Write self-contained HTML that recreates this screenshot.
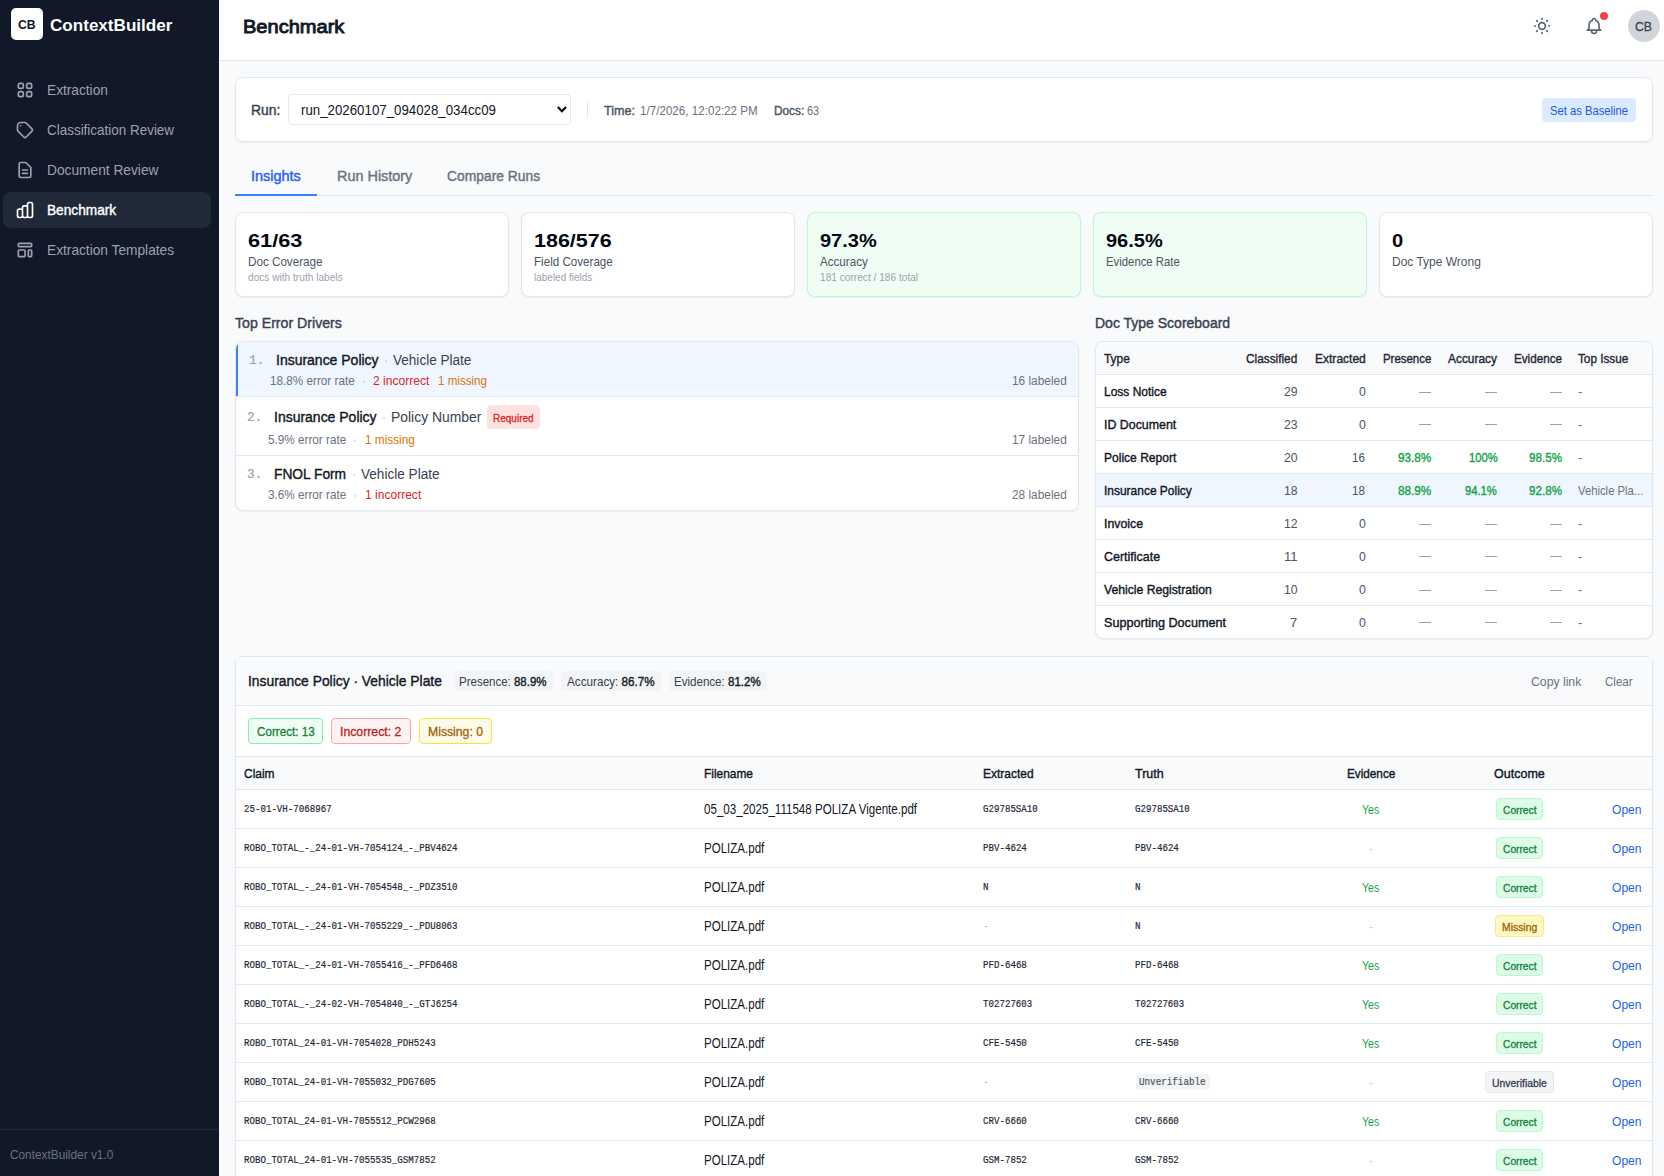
<!DOCTYPE html>
<html lang="en">
<head>
<meta charset="utf-8">
<title>ContextBuilder - Benchmark</title>
<style>
*{box-sizing:border-box;margin:0;padding:0}
html,body{width:1664px;height:1176px;overflow:hidden;background:#f9fafb;font-family:"Liberation Sans",sans-serif;color:#111827}
body{position:relative}
.b{position:absolute}
.t{position:absolute;white-space:nowrap;transform-origin:0 50%}
.m{font-family:"Liberation Mono",monospace;-webkit-text-stroke:.2px currentColor}
.s{-webkit-text-stroke:.4px currentColor}
.s2{-webkit-text-stroke:.9px currentColor}
.s1{-webkit-text-stroke:.3px currentColor}
.bd{font-weight:bold}
.card{position:absolute;background:#fff;border:1px solid #e2e8f0;border-radius:8px;box-shadow:0 1px 2px rgba(0,0,0,.06)}
.ln{position:absolute;height:1px;background:#e2e8f0}
svg.i{position:absolute;fill:none;stroke-width:2;stroke-linecap:round;stroke-linejoin:round}
</style>
</head>
<body>
<div class="b" style="left:0px;top:0px;width:219px;height:1176px;background:#111827"></div>
<div class="b" style="left:11px;top:8px;width:32px;height:32px;background:#fff;border-radius:5px"></div>
<div class="b" style="left:3px;top:192px;width:208px;height:36px;background:#1f2937;border-radius:8px"></div>
<svg class="i" style="left:15px;top:80px;stroke:#9ca3af" width="20" height="20" viewBox="0 0 24 24"><path d="M4 6a2 2 0 012-2h2a2 2 0 012 2v2a2 2 0 01-2 2H6a2 2 0 01-2-2V6zM14 6a2 2 0 012-2h2a2 2 0 012 2v2a2 2 0 01-2 2h-2a2 2 0 01-2-2V6zM4 16a2 2 0 012-2h2a2 2 0 012 2v2a2 2 0 01-2 2H6a2 2 0 01-2-2v-2zM14 16a2 2 0 012-2h2a2 2 0 012 2v2a2 2 0 01-2 2h-2a2 2 0 01-2-2v-2z"/></svg>
<svg class="i" style="left:15px;top:120px;stroke:#9ca3af" width="20" height="20" viewBox="0 0 24 24"><path d="M7 7h.01M7 3h5c.512 0 1.024.195 1.414.586l7 7a2 2 0 010 2.828l-7 7a2 2 0 01-2.828 0l-7-7A1.994 1.994 0 013 12V7a4 4 0 014-4z"/></svg>
<svg class="i" style="left:15px;top:160px;stroke:#9ca3af" width="20" height="20" viewBox="0 0 24 24"><path d="M9 12h6m-6 4h6m2 5H7a2 2 0 01-2-2V5a2 2 0 012-2h5.586a1 1 0 01.707.293l5.414 5.414a1 1 0 01.293.707V19a2 2 0 01-2 2z"/></svg>
<svg class="i" style="left:15px;top:200px;stroke:#fff" width="20" height="20" viewBox="0 0 24 24"><path d="M9 19v-6a2 2 0 00-2-2H5a2 2 0 00-2 2v6a2 2 0 002 2h2a2 2 0 002-2zm0 0V9a2 2 0 012-2h2a2 2 0 012 2v10m-6 0a2 2 0 002 2h2a2 2 0 002-2m0 0V5a2 2 0 012-2h2a2 2 0 012 2v14a2 2 0 01-2 2h-2a2 2 0 01-2-2z"/></svg>
<svg class="i" style="left:15px;top:240px;stroke:#9ca3af" width="20" height="20" viewBox="0 0 24 24"><path d="M4 5a1 1 0 011-1h14a1 1 0 011 1v2a1 1 0 01-1 1H5a1 1 0 01-1-1V5zM4 13a1 1 0 011-1h6a1 1 0 011 1v6a1 1 0 01-1 1H5a1 1 0 01-1-1v-6zM16 13a1 1 0 011-1h2a1 1 0 011 1v6a1 1 0 01-1 1h-2a1 1 0 01-1-1v-6z"/></svg>
<div class="b" style="left:0px;top:1129px;width:219px;height:1px;background:#1f2937"></div>
<div class="b" style="left:219px;top:0px;width:1445px;height:60px;background:#fff"></div>
<div class="b" style="left:219px;top:60px;width:1445px;height:1px;background:#e2e8f0"></div>
<svg class="i" style="left:1532px;top:16px;stroke:#5b6472" width="20" height="20" viewBox="0 0 24 24"><path d="M12 3v1m0 16v1m9-9h-1M4 12H3m15.364 6.364l-.707-.707M6.343 6.343l-.707-.707m12.728 0l-.707.707M6.343 17.657l-.707.707M16 12a4 4 0 11-8 0 4 4 0 018 0z"/></svg>
<svg class="i" style="left:1584px;top:16px;stroke:#5b6472" width="20" height="20" viewBox="0 0 24 24"><path d="M15 17h5l-1.405-1.405A2.032 2.032 0 0118 14.158V11a6.002 6.002 0 00-4-5.659V5a2 2 0 10-4 0v.341C7.670 6.165 6 8.388 6 11v3.159c0 .538-.214 1.055-.595 1.436L4 17h5m6 0v1a3 3 0 11-6 0v-1m6 0H9"/></svg>
<div class="b" style="left:1600px;top:12px;width:8px;height:8px;background:#ef4444;border-radius:50%"></div>
<div class="b" style="left:1628px;top:10px;width:32px;height:32px;background:#d1d5db;border-radius:50%"></div>
<div class="card" style="left:235px;top:77px;width:1418px;height:65px;"></div>
<div class="b" style="left:288px;top:94px;width:283px;height:31px;background:#fff;border:1px solid #e2e8f0;border-radius:4px"></div>
<svg class="b" style="left:556px;top:104px" width="12" height="11" viewBox="0 0 12 11" fill="none" stroke="#020617" stroke-width="2.1"><path d="M1.800 3L5.900 7.300L10 3"/></svg>
<div class="b" style="left:587px;top:102px;width:1px;height:16px;background:#e2e8f0"></div>
<div class="b" style="left:1542px;top:98px;width:94px;height:24px;background:#dbeafe;border-radius:4px"></div>
<div class="b" style="left:235px;top:195px;width:1418px;height:1px;background:#e2e8f0"></div>
<div class="b" style="left:235px;top:194px;width:82px;height:2px;background:#3b82f6"></div>
<div class="card" style="left:235px;top:212px;width:274px;height:85px;"></div>
<div class="card" style="left:521px;top:212px;width:274px;height:85px;"></div>
<div class="card" style="left:807px;top:212px;width:274px;height:85px;background:#f0fdf4;border-color:#bbf7d0"></div>
<div class="card" style="left:1093px;top:212px;width:274px;height:85px;background:#f0fdf4;border-color:#bbf7d0"></div>
<div class="card" style="left:1379px;top:212px;width:274px;height:85px;"></div>
<div class="card" style="left:235px;top:341px;width:844px;height:170px;overflow:hidden"><div class="b" style="left:0;top:0;width:842px;height:54px;background:#eff6ff;border-left:2px solid #3b82f6"></div><div class="ln" style="left:0;top:54px;width:842px"></div><div class="ln" style="left:0;top:113px;width:842px"></div></div>
<div class="b" style="left:385.0px;top:360px;width:2px;height:2px;background:#d1d5db;border-radius:1px"></div>
<div class="b" style="left:362.8px;top:381px;width:2px;height:2px;background:#d1d5db;border-radius:1px"></div>
<div class="b" style="left:383.2px;top:417px;width:2px;height:2px;background:#d1d5db;border-radius:1px"></div>
<div class="b" style="left:354.3px;top:440px;width:2px;height:2px;background:#d1d5db;border-radius:1px"></div>
<div class="b" style="left:353.0px;top:474px;width:2px;height:2px;background:#d1d5db;border-radius:1px"></div>
<div class="b" style="left:354.3px;top:495px;width:2px;height:2px;background:#d1d5db;border-radius:1px"></div>
<div class="b" style="left:487px;top:405px;width:53px;height:23.5px;background:#fee2e2;border-radius:4px"></div>
<div class="card" style="left:1095px;top:341px;width:558px;height:298px;overflow:hidden"><div class="b" style="left:0;top:0;width:556px;height:32px;background:#f9fafb"></div><div class="b" style="left:0;top:132px;width:556px;height:32px;background:#eff6ff"></div><div class="ln" style="left:0;top:32px;width:556px"></div><div class="ln" style="left:0;top:65px;width:556px"></div><div class="ln" style="left:0;top:98px;width:556px"></div><div class="ln" style="left:0;top:131px;width:556px"></div><div class="ln" style="left:0;top:164px;width:556px"></div><div class="ln" style="left:0;top:197px;width:556px"></div><div class="ln" style="left:0;top:230px;width:556px"></div><div class="ln" style="left:0;top:263px;width:556px"></div></div>
<div class="b" style="left:1419.0px;top:392px;width:11.8px;height:1px;background:#9ca3af"></div>
<div class="b" style="left:1485.2px;top:392px;width:11.8px;height:1px;background:#9ca3af"></div>
<div class="b" style="left:1550.3px;top:392px;width:11.8px;height:1px;background:#9ca3af"></div>
<div class="b" style="left:1419.0px;top:424px;width:11.8px;height:1px;background:#9ca3af"></div>
<div class="b" style="left:1485.2px;top:424px;width:11.8px;height:1px;background:#9ca3af"></div>
<div class="b" style="left:1550.3px;top:424px;width:11.8px;height:1px;background:#9ca3af"></div>
<div class="b" style="left:1419.0px;top:524px;width:11.8px;height:1px;background:#9ca3af"></div>
<div class="b" style="left:1485.2px;top:524px;width:11.8px;height:1px;background:#9ca3af"></div>
<div class="b" style="left:1550.3px;top:524px;width:11.8px;height:1px;background:#9ca3af"></div>
<div class="b" style="left:1419.0px;top:556px;width:11.8px;height:1px;background:#9ca3af"></div>
<div class="b" style="left:1485.2px;top:556px;width:11.8px;height:1px;background:#9ca3af"></div>
<div class="b" style="left:1550.3px;top:556px;width:11.8px;height:1px;background:#9ca3af"></div>
<div class="b" style="left:1419.0px;top:590px;width:11.8px;height:1px;background:#9ca3af"></div>
<div class="b" style="left:1485.2px;top:590px;width:11.8px;height:1px;background:#9ca3af"></div>
<div class="b" style="left:1550.3px;top:590px;width:11.8px;height:1px;background:#9ca3af"></div>
<div class="b" style="left:1419.0px;top:622px;width:11.8px;height:1px;background:#9ca3af"></div>
<div class="b" style="left:1485.2px;top:622px;width:11.8px;height:1px;background:#9ca3af"></div>
<div class="b" style="left:1550.3px;top:622px;width:11.8px;height:1px;background:#9ca3af"></div>
<div class="card" style="left:235px;top:656px;width:1418px;height:560px;overflow:hidden;border-radius:7px"><div class="b" style="left:0;top:0;width:1416px;height:48px;background:#f9fafb"></div><div class="ln" style="left:0;top:48px;width:1416px"></div><div class="ln" style="left:0;top:99px;width:1416px"></div><div class="b" style="left:0;top:100px;width:1416px;height:32px;background:#f9fafb"></div><div class="ln" style="left:0;top:132px;width:1416px"></div><div class="ln" style="left:0;top:171px;width:1416px"></div><div class="ln" style="left:0;top:210px;width:1416px"></div><div class="ln" style="left:0;top:249px;width:1416px"></div><div class="ln" style="left:0;top:288px;width:1416px"></div><div class="ln" style="left:0;top:327px;width:1416px"></div><div class="ln" style="left:0;top:366px;width:1416px"></div><div class="ln" style="left:0;top:405px;width:1416px"></div><div class="ln" style="left:0;top:444px;width:1416px"></div><div class="ln" style="left:0;top:483px;width:1416px"></div><div class="ln" style="left:0;top:522px;width:1416px"></div></div>
<div class="b" style="left:234px;top:655px;width:5px;height:5px;background:#f9fafb"></div>
<div class="b" style="left:1649px;top:655px;width:5px;height:5px;background:#f9fafb"></div>
<div class="b" style="left:454.3px;top:671px;width:98.5px;height:20px;background:#f3f4f6;border-radius:4px"></div>
<div class="b" style="left:561px;top:671px;width:100px;height:20px;background:#f3f4f6;border-radius:4px"></div>
<div class="b" style="left:669px;top:671px;width:98px;height:20px;background:#f3f4f6;border-radius:4px"></div>
<div class="b" style="left:248px;top:718px;width:75px;height:26px;background:#f0fdf4;border:1px solid #86efac;border-radius:4px"></div>
<div class="b" style="left:331px;top:718px;width:80px;height:26px;background:#fef2f2;border:1px solid #fca5a5;border-radius:4px"></div>
<div class="b" style="left:419px;top:718px;width:73px;height:26px;background:#fefce8;border:1px solid #fde047;border-radius:4px"></div>
<div class="b" style="left:1496px;top:798px;width:47px;height:22px;background:#dcfce7;border:1px solid #bbf7d0;border-radius:4px"></div>
<div class="b" style="left:1496px;top:837px;width:47px;height:22px;background:#dcfce7;border:1px solid #bbf7d0;border-radius:4px"></div>
<div class="b" style="left:1496px;top:876px;width:47px;height:22px;background:#dcfce7;border:1px solid #bbf7d0;border-radius:4px"></div>
<div class="b" style="left:1495px;top:915px;width:49px;height:22px;background:#fef9c3;border:1px solid #fde68a;border-radius:4px"></div>
<div class="b" style="left:1496px;top:954px;width:47px;height:22px;background:#dcfce7;border:1px solid #bbf7d0;border-radius:4px"></div>
<div class="b" style="left:1496px;top:993px;width:47px;height:22px;background:#dcfce7;border:1px solid #bbf7d0;border-radius:4px"></div>
<div class="b" style="left:1496px;top:1032px;width:47px;height:22px;background:#dcfce7;border:1px solid #bbf7d0;border-radius:4px"></div>
<div class="b" style="left:1135.7px;top:1074px;width:74.2px;height:16px;background:#f3f4f6;border-radius:3px"></div>
<div class="b" style="left:1485px;top:1071px;width:69px;height:22px;background:#f3f4f6;border:1px solid #e5e7eb;border-radius:4px"></div>
<div class="b" style="left:1496px;top:1110px;width:47px;height:22px;background:#dcfce7;border:1px solid #bbf7d0;border-radius:4px"></div>
<div class="b" style="left:1496px;top:1149px;width:47px;height:22px;background:#dcfce7;border:1px solid #bbf7d0;border-radius:4px"></div>
<span class="t bd" style="top:16.55px;font-size:12.6px;line-height:16px;color:#111827;left:18.17px;transform:scaleX(0.9699);">CB</span>
<span class="t bd" style="top:14.60px;font-size:16.4px;line-height:21px;color:#fff;left:50.48px;transform:scaleX(1.0417);">ContextBuilder</span>
<span class="t" style="top:80.77px;font-size:14.4px;line-height:19px;color:#9ca3af;left:46.78px;transform:scaleX(0.9510);">Extraction</span>
<span class="t" style="top:120.77px;font-size:14.4px;line-height:19px;color:#9ca3af;left:46.78px;transform:scaleX(0.9345);">Classification Review</span>
<span class="t" style="top:160.77px;font-size:14.4px;line-height:19px;color:#9ca3af;left:46.78px;transform:scaleX(0.9545);">Document Review</span>
<span class="t s" style="top:200.77px;font-size:14.4px;line-height:19px;color:#fff;left:46.78px;transform:scaleX(0.9501);">Benchmark</span>
<span class="t" style="top:240.77px;font-size:14.4px;line-height:19px;color:#9ca3af;left:46.78px;transform:scaleX(0.9531);">Extraction Templates</span>
<span class="t" style="top:1146.65px;font-size:12.4px;line-height:16px;color:#6b7280;left:10.38px;transform:scaleX(0.9547);">ContextBuilder v1.0</span>
<span class="t s2" style="top:15.02px;font-size:18.7px;line-height:24px;color:#111827;left:242.87px;transform:scaleX(1.0720);">Benchmark</span>
<span class="t s1" style="top:17.66px;font-size:13.2px;line-height:17px;color:#374151;left:1635.34px;transform:scaleX(0.9271);">CB</span>
<span class="t s" style="top:101.17px;font-size:14px;line-height:18px;color:#374151;left:251.30px;transform:scaleX(0.9919);">Run:</span>
<span class="t" style="top:100.67px;font-size:14px;line-height:18px;color:#111827;left:301.00px;transform:scaleX(0.9485);">run_20260107_094028_034cc09</span>
<span class="t s" style="top:102.55px;font-size:12.6px;line-height:16px;color:#4b5563;left:604.27px;transform:scaleX(1.0008);">Time:</span>
<span class="t" style="top:102.55px;font-size:12.6px;line-height:16px;color:#6b7280;left:639.57px;transform:scaleX(0.9240);">1/7/2026, 12:02:22 PM</span>
<span class="t s" style="top:102.55px;font-size:12.6px;line-height:16px;color:#4b5563;left:773.67px;transform:scaleX(0.9395);">Docs:</span>
<span class="t" style="top:102.55px;font-size:12.6px;line-height:16px;color:#6b7280;left:807.37px;transform:scaleX(0.8673);">63</span>
<span class="t" style="top:101.65px;font-size:12.8px;line-height:17px;color:#2257e0;left:1550.36px;transform:scaleX(0.8767);">Set as Baseline</span>
<span class="t s" style="top:167.47px;font-size:14px;line-height:18px;color:#2563eb;left:250.80px;transform:scaleX(1.0330);">Insights</span>
<span class="t s" style="top:167.47px;font-size:14px;line-height:18px;color:#6b7280;left:336.60px;transform:scaleX(1.0301);">Run History</span>
<span class="t s" style="top:167.47px;font-size:14px;line-height:18px;color:#6b7280;left:447.30px;transform:scaleX(0.9892);">Compare Runs</span>
<span class="t bd" style="top:227.73px;font-size:18.9px;line-height:25px;color:#030712;left:248.26px;transform:scaleX(1.1513);">61/63</span>
<span class="t" style="top:253.46px;font-size:13.2px;line-height:17px;color:#4b5563;left:247.64px;transform:scaleX(0.8837);">Doc Coverage</span>
<span class="t" style="top:270.52px;font-size:10.4px;line-height:14px;color:#9ca3af;left:247.78px;transform:scaleX(0.9752);">docs with truth labels</span>
<span class="t bd" style="top:227.73px;font-size:18.9px;line-height:25px;color:#030712;left:534.25px;transform:scaleX(1.1382);">186/576</span>
<span class="t" style="top:253.46px;font-size:13.2px;line-height:17px;color:#4b5563;left:533.64px;transform:scaleX(0.8810);">Field Coverage</span>
<span class="t" style="top:270.52px;font-size:10.4px;line-height:14px;color:#9ca3af;left:533.78px;transform:scaleX(0.9615);">labeled fields</span>
<span class="t bd" style="top:227.73px;font-size:18.9px;line-height:25px;color:#030712;left:820.25px;transform:scaleX(1.0589);">97.3%</span>
<span class="t" style="top:253.46px;font-size:13.2px;line-height:17px;color:#4b5563;left:819.64px;transform:scaleX(0.8812);">Accuracy</span>
<span class="t" style="top:270.52px;font-size:10.4px;line-height:14px;color:#9ca3af;left:819.78px;transform:scaleX(0.9762);">181 correct / 186 total</span>
<span class="t bd" style="top:227.73px;font-size:18.9px;line-height:25px;color:#030712;left:1106.26px;transform:scaleX(1.0589);">96.5%</span>
<span class="t" style="top:253.46px;font-size:13.2px;line-height:17px;color:#4b5563;left:1105.64px;transform:scaleX(0.8602);">Evidence Rate</span>
<span class="t bd" style="top:227.73px;font-size:18.9px;line-height:25px;color:#030712;left:1392.26px;transform:scaleX(1.0683);">0</span>
<span class="t" style="top:253.46px;font-size:13.2px;line-height:17px;color:#4b5563;left:1391.64px;transform:scaleX(0.9085);">Doc Type Wrong</span>
<span class="t s" style="top:314.17px;font-size:14px;line-height:18px;color:#374151;left:234.60px;transform:scaleX(1.0099);">Top Error Drivers</span>
<span class="t m" style="top:352.03px;font-size:13px;line-height:17px;color:#9ca3af;left:248.95px;transform:scaleX(0.9789);">1.</span>
<span class="t s" style="top:350.98px;font-size:14.7px;line-height:19px;color:#111827;left:275.56px;transform:scaleX(0.9519);">Insurance Policy</span>
<span class="t" style="top:350.98px;font-size:14.7px;line-height:19px;color:#374151;left:392.76px;transform:scaleX(0.9230);">Vehicle Plate</span>
<span class="t" style="top:372.75px;font-size:12.3px;line-height:16px;color:#6b7280;left:269.88px;transform:scaleX(0.9536);">18.8% error rate</span>
<span class="t" style="top:372.75px;font-size:12.3px;line-height:16px;color:#dc2626;left:373.19px;transform:scaleX(0.9829);">2 incorrect</span>
<span class="t" style="top:372.75px;font-size:12.3px;line-height:16px;color:#d97706;left:438.19px;transform:scaleX(0.9420);">1 missing</span>
<span class="t" style="top:372.75px;font-size:12.3px;line-height:16px;color:#6b7280;left:1011.68px;transform:scaleX(0.9643);">16 labeled</span>
<span class="t m" style="top:409.03px;font-size:13px;line-height:17px;color:#9ca3af;left:246.95px;transform:scaleX(0.9789);">2.</span>
<span class="t s" style="top:407.98px;font-size:14.7px;line-height:19px;color:#111827;left:273.56px;transform:scaleX(0.9519);">Insurance Policy</span>
<span class="t" style="top:407.98px;font-size:14.7px;line-height:19px;color:#374151;left:391.06px;transform:scaleX(0.9464);">Policy Number</span>
<span class="t" style="top:432.05px;font-size:12.3px;line-height:16px;color:#6b7280;left:267.88px;transform:scaleX(0.9539);">5.9% error rate</span>
<span class="t" style="top:432.05px;font-size:12.3px;line-height:16px;color:#d97706;left:364.88px;transform:scaleX(0.9574);">1 missing</span>
<span class="t" style="top:432.05px;font-size:12.3px;line-height:16px;color:#6b7280;left:1011.68px;transform:scaleX(0.9643);">17 labeled</span>
<span class="t m" style="top:466.03px;font-size:13px;line-height:17px;color:#9ca3af;left:246.95px;transform:scaleX(0.9789);">3.</span>
<span class="t s" style="top:464.98px;font-size:14.7px;line-height:19px;color:#111827;left:273.56px;transform:scaleX(0.9363);">FNOL Form</span>
<span class="t" style="top:464.98px;font-size:14.7px;line-height:19px;color:#374151;left:360.56px;transform:scaleX(0.9253);">Vehicle Plate</span>
<span class="t" style="top:487.05px;font-size:12.3px;line-height:16px;color:#6b7280;left:267.88px;transform:scaleX(0.9539);">3.6% error rate</span>
<span class="t" style="top:487.05px;font-size:12.3px;line-height:16px;color:#dc2626;left:364.88px;transform:scaleX(0.9794);">1 incorrect</span>
<span class="t" style="top:487.05px;font-size:12.3px;line-height:16px;color:#6b7280;left:1011.68px;transform:scaleX(0.9643);">28 labeled</span>
<span class="t s1" style="top:410.73px;font-size:10.6px;line-height:14px;color:#dc2626;left:492.97px;transform:scaleX(0.9450);">Required</span>
<span class="t s" style="top:314.17px;font-size:14px;line-height:18px;color:#374151;left:1095.30px;transform:scaleX(0.9999);">Doc Type Scoreboard</span>
<span class="t s" style="top:350.26px;font-size:13.3px;line-height:17px;color:#1f2937;left:1104.34px;transform:scaleX(0.8949);">Type</span>
<span class="t s" style="top:350.26px;font-size:13.3px;line-height:17px;color:#1f2937;left:1245.84px;transform:scaleX(0.8897);">Classified</span>
<span class="t s" style="top:350.26px;font-size:13.3px;line-height:17px;color:#1f2937;left:1314.63px;transform:scaleX(0.9043);">Extracted</span>
<span class="t s" style="top:350.26px;font-size:13.3px;line-height:17px;color:#1f2937;left:1382.63px;transform:scaleX(0.8596);">Presence</span>
<span class="t s" style="top:350.26px;font-size:13.3px;line-height:17px;color:#1f2937;left:1448.13px;transform:scaleX(0.8960);">Accuracy</span>
<span class="t s" style="top:350.26px;font-size:13.3px;line-height:17px;color:#1f2937;left:1514.13px;transform:scaleX(0.8774);">Evidence</span>
<span class="t s" style="top:350.26px;font-size:13.3px;line-height:17px;color:#1f2937;left:1578.13px;transform:scaleX(0.8836);">Top Issue</span>
<span class="t s" style="top:383.16px;font-size:13.2px;line-height:17px;color:#111827;left:1104.34px;transform:scaleX(0.9084);">Loss Notice</span>
<span class="t" style="top:383.16px;font-size:13.2px;line-height:17px;color:#4b5563;left:1283.74px;transform:scaleX(0.9264);">29</span>
<span class="t" style="top:383.16px;font-size:13.2px;line-height:17px;color:#4b5563;left:1358.54px;transform:scaleX(0.9385);">0</span>
<span class="t" style="top:383.16px;font-size:13.2px;line-height:17px;color:#6b7280;left:1578.14px;transform:scaleX(0.9741);">-</span>
<span class="t s" style="top:416.16px;font-size:13.2px;line-height:17px;color:#111827;left:1104.34px;transform:scaleX(0.9392);">ID Document</span>
<span class="t" style="top:416.16px;font-size:13.2px;line-height:17px;color:#4b5563;left:1283.74px;transform:scaleX(0.9264);">23</span>
<span class="t" style="top:416.16px;font-size:13.2px;line-height:17px;color:#4b5563;left:1358.54px;transform:scaleX(0.9385);">0</span>
<span class="t" style="top:416.16px;font-size:13.2px;line-height:17px;color:#6b7280;left:1578.14px;transform:scaleX(0.9741);">-</span>
<span class="t s" style="top:449.16px;font-size:13.2px;line-height:17px;color:#111827;left:1104.34px;transform:scaleX(0.9131);">Police Report</span>
<span class="t" style="top:449.16px;font-size:13.2px;line-height:17px;color:#4b5563;left:1283.74px;transform:scaleX(0.9264);">20</span>
<span class="t" style="top:449.16px;font-size:13.2px;line-height:17px;color:#4b5563;left:1352.44px;transform:scaleX(0.8855);">16</span>
<span class="t s" style="top:449.16px;font-size:13.2px;line-height:17px;color:#16a34a;left:1397.64px;transform:scaleX(0.8900);">93.8%</span>
<span class="t s" style="top:449.16px;font-size:13.2px;line-height:17px;color:#16a34a;left:1468.54px;transform:scaleX(0.8476);">100%</span>
<span class="t s" style="top:449.16px;font-size:13.2px;line-height:17px;color:#16a34a;left:1529.14px;transform:scaleX(0.8847);">98.5%</span>
<span class="t" style="top:449.16px;font-size:13.2px;line-height:17px;color:#6b7280;left:1578.14px;transform:scaleX(0.9741);">-</span>
<span class="t s" style="top:482.16px;font-size:13.2px;line-height:17px;color:#111827;left:1104.34px;transform:scaleX(0.9073);">Insurance Policy</span>
<span class="t" style="top:482.16px;font-size:13.2px;line-height:17px;color:#4b5563;left:1283.74px;transform:scaleX(0.9264);">18</span>
<span class="t" style="top:482.16px;font-size:13.2px;line-height:17px;color:#4b5563;left:1352.44px;transform:scaleX(0.8855);">18</span>
<span class="t s" style="top:482.16px;font-size:13.2px;line-height:17px;color:#16a34a;left:1397.64px;transform:scaleX(0.8900);">88.9%</span>
<span class="t s" style="top:482.16px;font-size:13.2px;line-height:17px;color:#16a34a;left:1465.34px;transform:scaleX(0.8499);">94.1%</span>
<span class="t s" style="top:482.16px;font-size:13.2px;line-height:17px;color:#16a34a;left:1529.14px;transform:scaleX(0.8847);">92.8%</span>
<span class="t" style="top:482.16px;font-size:13.2px;line-height:17px;color:#6b7280;left:1578.14px;transform:scaleX(0.8563);">Vehicle Pla...</span>
<span class="t s" style="top:515.16px;font-size:13.2px;line-height:17px;color:#111827;left:1104.34px;transform:scaleX(0.9353);">Invoice</span>
<span class="t" style="top:515.16px;font-size:13.2px;line-height:17px;color:#4b5563;left:1283.74px;transform:scaleX(0.9264);">12</span>
<span class="t" style="top:515.16px;font-size:13.2px;line-height:17px;color:#4b5563;left:1358.54px;transform:scaleX(0.9385);">0</span>
<span class="t" style="top:515.16px;font-size:13.2px;line-height:17px;color:#6b7280;left:1578.14px;transform:scaleX(0.9741);">-</span>
<span class="t s" style="top:548.16px;font-size:13.2px;line-height:17px;color:#111827;left:1104.34px;transform:scaleX(0.9447);">Certificate</span>
<span class="t" style="top:548.16px;font-size:13.2px;line-height:17px;color:#4b5563;left:1283.74px;transform:scaleX(0.9919);">11</span>
<span class="t" style="top:548.16px;font-size:13.2px;line-height:17px;color:#4b5563;left:1358.54px;transform:scaleX(0.9385);">0</span>
<span class="t" style="top:548.16px;font-size:13.2px;line-height:17px;color:#6b7280;left:1578.14px;transform:scaleX(0.9741);">-</span>
<span class="t s" style="top:581.16px;font-size:13.2px;line-height:17px;color:#111827;left:1104.34px;transform:scaleX(0.9239);">Vehicle Registration</span>
<span class="t" style="top:581.16px;font-size:13.2px;line-height:17px;color:#4b5563;left:1283.74px;transform:scaleX(0.9264);">10</span>
<span class="t" style="top:581.16px;font-size:13.2px;line-height:17px;color:#4b5563;left:1358.54px;transform:scaleX(0.9385);">0</span>
<span class="t" style="top:581.16px;font-size:13.2px;line-height:17px;color:#6b7280;left:1578.14px;transform:scaleX(0.9741);">-</span>
<span class="t s" style="top:614.16px;font-size:13.2px;line-height:17px;color:#111827;left:1104.34px;transform:scaleX(0.9563);">Supporting Document</span>
<span class="t" style="top:614.16px;font-size:13.2px;line-height:17px;color:#4b5563;left:1290.14px;transform:scaleX(0.9793);">7</span>
<span class="t" style="top:614.16px;font-size:13.2px;line-height:17px;color:#4b5563;left:1358.54px;transform:scaleX(0.9385);">0</span>
<span class="t" style="top:614.16px;font-size:13.2px;line-height:17px;color:#6b7280;left:1578.14px;transform:scaleX(0.9741);">-</span>
<span class="t s" style="top:671.48px;font-size:15.4px;line-height:20px;color:#111827;left:247.53px;transform:scaleX(0.8995);">Insurance Policy · Vehicle Plate</span>
<span class="t" style="top:672.85px;font-size:12.9px;line-height:17px;color:#374151;left:459.36px;transform:scaleX(0.8919);">Presence: <span class="s" style="color:#111827">88.9%</span></span>
<span class="t" style="top:672.85px;font-size:12.9px;line-height:17px;color:#374151;left:566.65px;transform:scaleX(0.9072);">Accuracy: <span class="s" style="color:#111827">86.7%</span></span>
<span class="t" style="top:672.85px;font-size:12.9px;line-height:17px;color:#374151;left:674.36px;transform:scaleX(0.8967);">Evidence: <span class="s" style="color:#111827">81.2%</span></span>
<span class="t" style="top:673.06px;font-size:13px;line-height:17px;color:#6b7280;left:1531.45px;transform:scaleX(0.9404);">Copy link</span>
<span class="t" style="top:673.06px;font-size:13px;line-height:17px;color:#6b7280;left:1604.55px;transform:scaleX(0.8874);">Clear</span>
<span class="t s1" style="top:723.16px;font-size:13.2px;line-height:17px;color:#15803d;left:256.64px;transform:scaleX(0.8859);">Correct: 13</span>
<span class="t s1" style="top:723.16px;font-size:13.2px;line-height:17px;color:#b91c1c;left:340.14px;transform:scaleX(0.9291);">Incorrect: 2</span>
<span class="t s1" style="top:723.16px;font-size:13.2px;line-height:17px;color:#a16207;left:427.64px;transform:scaleX(0.9262);">Missing: 0</span>
<span class="t s" style="top:765.46px;font-size:13px;line-height:17px;color:#111827;left:243.85px;transform:scaleX(0.9201);">Claim</span>
<span class="t s" style="top:765.46px;font-size:13px;line-height:17px;color:#111827;left:703.65px;transform:scaleX(0.9160);">Filename</span>
<span class="t s" style="top:765.46px;font-size:13px;line-height:17px;color:#111827;left:982.85px;transform:scaleX(0.9209);">Extracted</span>
<span class="t s" style="top:765.46px;font-size:13px;line-height:17px;color:#111827;left:1135.35px;transform:scaleX(0.9572);">Truth</span>
<span class="t s" style="top:765.46px;font-size:13px;line-height:17px;color:#111827;left:1346.85px;transform:scaleX(0.9027);">Evidence</span>
<span class="t s" style="top:765.46px;font-size:13px;line-height:17px;color:#111827;left:1493.95px;transform:scaleX(0.9627);">Outcome</span>
<span class="t m" style="top:802.38px;font-size:10.6px;line-height:14px;color:#1f2937;left:243.97px;transform:scaleX(0.8616);">25-01-VH-7068967</span>
<span class="t" style="top:800.37px;font-size:14px;line-height:18px;color:#111827;left:703.60px;transform:scaleX(0.8268);">05_03_2025_111548 POLIZA Vigente.pdf</span>
<span class="t m" style="top:802.48px;font-size:10.6px;line-height:14px;color:#1f2937;left:982.67px;transform:scaleX(0.8617);">G29785SA10</span>
<span class="t m" style="top:802.48px;font-size:10.6px;line-height:14px;color:#1f2937;left:1135.17px;transform:scaleX(0.8617);">G29785SA10</span>
<span class="t" style="top:801.35px;font-size:12.9px;line-height:17px;color:#16a34a;left:1362.36px;transform:scaleX(0.8213);">Yes</span>
<span class="t s1" style="top:803.92px;font-size:10.2px;line-height:13px;color:#15803d;left:1502.69px;transform:scaleX(1.0032);">Correct</span>
<span class="t" style="top:803.04px;font-size:11.9px;line-height:15px;color:#2563eb;left:1611.81px;transform:scaleX(1.0144);">Open</span>
<span class="t m" style="top:841.38px;font-size:10.6px;line-height:14px;color:#1f2937;left:243.97px;transform:scaleX(0.8614);">ROBO_TOTAL_-_24-01-VH-7054124_-_PBV4624</span>
<span class="t" style="top:839.37px;font-size:14px;line-height:18px;color:#111827;left:703.60px;transform:scaleX(0.8248);">POLIZA.pdf</span>
<span class="t m" style="top:841.48px;font-size:10.6px;line-height:14px;color:#1f2937;left:982.67px;transform:scaleX(0.8619);">PBV-4624</span>
<span class="t m" style="top:841.48px;font-size:10.6px;line-height:14px;color:#1f2937;left:1135.17px;transform:scaleX(0.8619);">PBV-4624</span>
<span class="t" style="top:840.35px;font-size:12.9px;line-height:17px;color:#d1d5db;left:1368.65px;transform:scaleX(0.9947);">-</span>
<span class="t s1" style="top:842.92px;font-size:10.2px;line-height:13px;color:#15803d;left:1502.69px;transform:scaleX(1.0032);">Correct</span>
<span class="t" style="top:842.04px;font-size:11.9px;line-height:15px;color:#2563eb;left:1611.81px;transform:scaleX(1.0144);">Open</span>
<span class="t m" style="top:880.38px;font-size:10.6px;line-height:14px;color:#1f2937;left:243.97px;transform:scaleX(0.8614);">ROBO_TOTAL_-_24-01-VH-7054548_-_PDZ3510</span>
<span class="t" style="top:878.37px;font-size:14px;line-height:18px;color:#111827;left:703.60px;transform:scaleX(0.8248);">POLIZA.pdf</span>
<span class="t m" style="top:880.48px;font-size:10.6px;line-height:14px;color:#1f2937;left:982.67px;transform:scaleX(0.8666);">N</span>
<span class="t m" style="top:880.48px;font-size:10.6px;line-height:14px;color:#1f2937;left:1135.17px;transform:scaleX(0.8666);">N</span>
<span class="t" style="top:879.35px;font-size:12.9px;line-height:17px;color:#16a34a;left:1362.36px;transform:scaleX(0.8213);">Yes</span>
<span class="t s1" style="top:881.92px;font-size:10.2px;line-height:13px;color:#15803d;left:1502.69px;transform:scaleX(1.0032);">Correct</span>
<span class="t" style="top:881.04px;font-size:11.9px;line-height:15px;color:#2563eb;left:1611.81px;transform:scaleX(1.0144);">Open</span>
<span class="t m" style="top:919.38px;font-size:10.6px;line-height:14px;color:#1f2937;left:243.97px;transform:scaleX(0.8614);">ROBO_TOTAL_-_24-01-VH-7055229_-_PDU8063</span>
<span class="t" style="top:917.37px;font-size:14px;line-height:18px;color:#111827;left:703.60px;transform:scaleX(0.8248);">POLIZA.pdf</span>
<span class="t m" style="top:919.48px;font-size:10.6px;line-height:14px;color:#9ca3af;left:983.97px;transform:scaleX(0.5718);">-</span>
<span class="t m" style="top:919.48px;font-size:10.6px;line-height:14px;color:#1f2937;left:1135.17px;transform:scaleX(0.8666);">N</span>
<span class="t" style="top:918.35px;font-size:12.9px;line-height:17px;color:#d1d5db;left:1368.65px;transform:scaleX(0.9947);">-</span>
<span class="t s1" style="top:920.92px;font-size:10.2px;line-height:13px;color:#a16207;left:1501.79px;transform:scaleX(1.0193);">Missing</span>
<span class="t" style="top:920.04px;font-size:11.9px;line-height:15px;color:#2563eb;left:1611.81px;transform:scaleX(1.0144);">Open</span>
<span class="t m" style="top:958.38px;font-size:10.6px;line-height:14px;color:#1f2937;left:243.97px;transform:scaleX(0.8614);">ROBO_TOTAL_-_24-01-VH-7055416_-_PFD6468</span>
<span class="t" style="top:956.37px;font-size:14px;line-height:18px;color:#111827;left:703.60px;transform:scaleX(0.8248);">POLIZA.pdf</span>
<span class="t m" style="top:958.48px;font-size:10.6px;line-height:14px;color:#1f2937;left:982.67px;transform:scaleX(0.8619);">PFD-6468</span>
<span class="t m" style="top:958.48px;font-size:10.6px;line-height:14px;color:#1f2937;left:1135.17px;transform:scaleX(0.8619);">PFD-6468</span>
<span class="t" style="top:957.35px;font-size:12.9px;line-height:17px;color:#16a34a;left:1362.36px;transform:scaleX(0.8213);">Yes</span>
<span class="t s1" style="top:959.92px;font-size:10.2px;line-height:13px;color:#15803d;left:1502.69px;transform:scaleX(1.0032);">Correct</span>
<span class="t" style="top:959.04px;font-size:11.9px;line-height:15px;color:#2563eb;left:1611.81px;transform:scaleX(1.0144);">Open</span>
<span class="t m" style="top:997.38px;font-size:10.6px;line-height:14px;color:#1f2937;left:243.97px;transform:scaleX(0.8614);">ROBO_TOTAL_-_24-02-VH-7054840_-_GTJ6254</span>
<span class="t" style="top:995.37px;font-size:14px;line-height:18px;color:#111827;left:703.60px;transform:scaleX(0.8248);">POLIZA.pdf</span>
<span class="t m" style="top:997.48px;font-size:10.6px;line-height:14px;color:#1f2937;left:982.67px;transform:scaleX(0.8618);">T02727603</span>
<span class="t m" style="top:997.48px;font-size:10.6px;line-height:14px;color:#1f2937;left:1135.17px;transform:scaleX(0.8618);">T02727603</span>
<span class="t" style="top:996.35px;font-size:12.9px;line-height:17px;color:#16a34a;left:1362.36px;transform:scaleX(0.8213);">Yes</span>
<span class="t s1" style="top:998.92px;font-size:10.2px;line-height:13px;color:#15803d;left:1502.69px;transform:scaleX(1.0032);">Correct</span>
<span class="t" style="top:998.04px;font-size:11.9px;line-height:15px;color:#2563eb;left:1611.81px;transform:scaleX(1.0144);">Open</span>
<span class="t m" style="top:1036.38px;font-size:10.6px;line-height:14px;color:#1f2937;left:243.97px;transform:scaleX(0.8613);">ROBO_TOTAL_24-01-VH-7054028_PDH5243</span>
<span class="t" style="top:1034.37px;font-size:14px;line-height:18px;color:#111827;left:703.60px;transform:scaleX(0.8248);">POLIZA.pdf</span>
<span class="t m" style="top:1036.48px;font-size:10.6px;line-height:14px;color:#1f2937;left:982.67px;transform:scaleX(0.8619);">CFE-5450</span>
<span class="t m" style="top:1036.48px;font-size:10.6px;line-height:14px;color:#1f2937;left:1135.17px;transform:scaleX(0.8619);">CFE-5450</span>
<span class="t" style="top:1035.35px;font-size:12.9px;line-height:17px;color:#16a34a;left:1362.36px;transform:scaleX(0.8213);">Yes</span>
<span class="t s1" style="top:1037.92px;font-size:10.2px;line-height:13px;color:#15803d;left:1502.69px;transform:scaleX(1.0032);">Correct</span>
<span class="t" style="top:1037.04px;font-size:11.9px;line-height:15px;color:#2563eb;left:1611.81px;transform:scaleX(1.0144);">Open</span>
<span class="t m" style="top:1075.38px;font-size:10.6px;line-height:14px;color:#1f2937;left:243.97px;transform:scaleX(0.8613);">ROBO_TOTAL_24-01-VH-7055032_PDG7605</span>
<span class="t" style="top:1073.37px;font-size:14px;line-height:18px;color:#111827;left:703.60px;transform:scaleX(0.8248);">POLIZA.pdf</span>
<span class="t m" style="top:1075.48px;font-size:10.6px;line-height:14px;color:#9ca3af;left:983.97px;transform:scaleX(0.5718);">-</span>
<span class="t m" style="top:1075.48px;font-size:10.6px;line-height:14px;color:#4b5563;left:1139.07px;transform:scaleX(0.8734);">Unverifiable</span>
<span class="t" style="top:1074.35px;font-size:12.9px;line-height:17px;color:#d1d5db;left:1368.65px;transform:scaleX(0.9947);">-</span>
<span class="t s1" style="top:1076.92px;font-size:10.2px;line-height:13px;color:#374151;left:1491.89px;transform:scaleX(1.0189);">Unverifiable</span>
<span class="t" style="top:1076.04px;font-size:11.9px;line-height:15px;color:#2563eb;left:1611.81px;transform:scaleX(1.0144);">Open</span>
<span class="t m" style="top:1114.38px;font-size:10.6px;line-height:14px;color:#1f2937;left:243.97px;transform:scaleX(0.8613);">ROBO_TOTAL_24-01-VH-7055512_PCW2968</span>
<span class="t" style="top:1112.37px;font-size:14px;line-height:18px;color:#111827;left:703.60px;transform:scaleX(0.8248);">POLIZA.pdf</span>
<span class="t m" style="top:1114.48px;font-size:10.6px;line-height:14px;color:#1f2937;left:982.67px;transform:scaleX(0.8619);">CRV-6660</span>
<span class="t m" style="top:1114.48px;font-size:10.6px;line-height:14px;color:#1f2937;left:1135.17px;transform:scaleX(0.8619);">CRV-6660</span>
<span class="t" style="top:1113.35px;font-size:12.9px;line-height:17px;color:#16a34a;left:1362.36px;transform:scaleX(0.8213);">Yes</span>
<span class="t s1" style="top:1115.92px;font-size:10.2px;line-height:13px;color:#15803d;left:1502.69px;transform:scaleX(1.0032);">Correct</span>
<span class="t" style="top:1115.04px;font-size:11.9px;line-height:15px;color:#2563eb;left:1611.81px;transform:scaleX(1.0144);">Open</span>
<span class="t m" style="top:1153.38px;font-size:10.6px;line-height:14px;color:#1f2937;left:243.97px;transform:scaleX(0.8613);">ROBO_TOTAL_24-01-VH-7055535_GSM7852</span>
<span class="t" style="top:1151.37px;font-size:14px;line-height:18px;color:#111827;left:703.60px;transform:scaleX(0.8248);">POLIZA.pdf</span>
<span class="t m" style="top:1153.48px;font-size:10.6px;line-height:14px;color:#1f2937;left:982.67px;transform:scaleX(0.8619);">GSM-7852</span>
<span class="t m" style="top:1153.48px;font-size:10.6px;line-height:14px;color:#1f2937;left:1135.17px;transform:scaleX(0.8619);">GSM-7852</span>
<span class="t" style="top:1152.35px;font-size:12.9px;line-height:17px;color:#d1d5db;left:1368.65px;transform:scaleX(0.9947);">-</span>
<span class="t s1" style="top:1154.92px;font-size:10.2px;line-height:13px;color:#15803d;left:1502.69px;transform:scaleX(1.0032);">Correct</span>
<span class="t" style="top:1154.04px;font-size:11.9px;line-height:15px;color:#2563eb;left:1611.81px;transform:scaleX(1.0144);">Open</span>
</body>
</html>
